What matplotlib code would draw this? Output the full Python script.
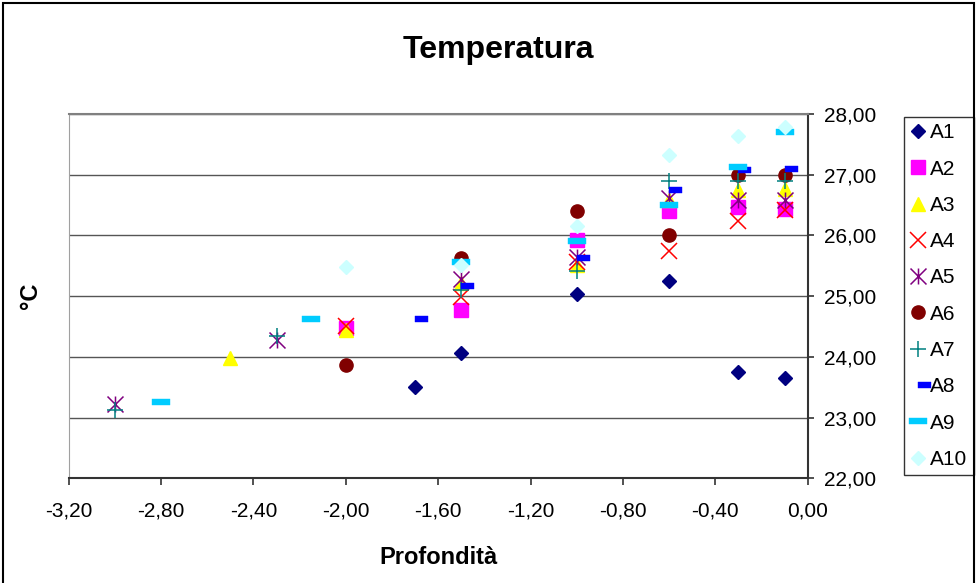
import numpy as np
import matplotlib
matplotlib.use('Agg')
import matplotlib.pyplot as plt
from matplotlib.path import Path
from matplotlib.patches import Rectangle
from matplotlib.ticker import FuncFormatter, MultipleLocator

plt.rcParams['font.family'] = 'Liberation Sans'

# depth (m) and temperature (degC) per station
x_a1 = [-1.7, -1.5, -1.0, -0.6, -0.3, -0.1]
y_a1 = [23.50, 24.07, 25.04, 25.25, 23.75, 23.65]
x_a2 = [-2.0, -1.5, -1.0, -0.6, -0.3, -0.1]
y_a2 = [24.48, 24.77, 25.93, 26.40, 26.46, 26.44]
x_a3 = [-2.5, -2.0, -1.5, -1.0, -0.6, -0.3, -0.1]
y_a3 = [23.98, 24.45, 25.22, 25.51, 26.58, 26.75, 26.76]
x_a4 = [-2.0, -1.5, -1.0, -0.6, -0.3, -0.1]
y_a4 = [24.50, 24.98, 25.57, 25.74, 26.23, 26.42]
x_a5 = [-3.0, -2.3, -1.5, -1.0, -0.6, -0.3, -0.1]
y_a5 = [23.22, 24.28, 25.28, 25.65, 26.61, 26.58, 26.58]
x_a6 = [-2.0, -1.5, -1.0, -0.6, -0.3, -0.1]
y_a6 = [23.86, 25.62, 26.40, 26.00, 26.99, 27.00]
x_a7 = [-3.0, -2.3, -1.5, -1.0, -0.6, -0.3, -0.1]
y_a7 = [23.13, 24.35, 25.10, 25.42, 26.89, 26.89, 26.89]
x_a8 = [-1.7, -1.5, -1.0, -0.6, -0.3, -0.1]
y_a8 = [24.63, 25.17, 25.62, 26.75, 27.07, 27.09]
x_a9 = [-2.8, -2.15, -1.5, -1.0, -0.6, -0.3, -0.1]
y_a9 = [23.25, 24.62, 25.56, 25.91, 26.50, 27.12, 27.71]
x_a10 = [-2.0, -1.5, -1.0, -0.6, -0.3, -0.1]
y_a10 = [25.48, 25.51, 26.15, 27.32, 27.64, 27.79]

names = ['A1', 'A2', 'A3', 'A4', 'A5', 'A6', 'A7', 'A8', 'A9', 'A10']

# excel-like markers
star = Path([(-1, -1), (1, 1), (-1, 1), (1, -1), (0, -1), (0, 1)],
            [Path.MOVETO, Path.LINETO, Path.MOVETO, Path.LINETO, Path.MOVETO, Path.LINETO])
short_dash = Path([(0, -0.2), (1, -0.2), (1, 0.2), (0, 0.2), (0, -0.2)], closed=True)
long_dash = Path([(-1, -0.28), (1, -0.28), (1, 0.28), (-1, 0.28), (-1, -0.28)], closed=True)

styles = [
    dict(marker='D', ms=7, color='#000080'),
    dict(marker='s', ms=9.5, color='#FF00FF'),
    dict(marker='^', ms=10, color='#FFFF00'),
    dict(marker='x', ms=11.5, color='#FF0000', mew=1.1),
    dict(marker=star, ms=11.5, color='#800080', mew=1.1, mfc='none'),
    dict(marker='o', ms=9.5, color='#800000'),
    dict(marker='+', ms=12, color='#008080', mew=1.1),
    dict(marker=short_dash, ms=18.7, color='#0000FF', mew=0.3),
    dict(marker=long_dash, ms=13, color='#00CCFF', mew=0.3),
    dict(marker='D', ms=7, color='#CCFFFF'),
]

xs = [x_a1, x_a2, x_a3, x_a4, x_a5, x_a6, x_a7, x_a8, x_a9, x_a10]
ys = [y_a1, y_a2, y_a3, y_a4, y_a5, y_a6, y_a7, y_a8, y_a9, y_a10]

fig = plt.figure(figsize=(9.77, 5.83), dpi=100)
ax = fig.add_axes([0.0703, 0.1796, 0.7564, 0.6249])

handles = []
for x, y, name, st in zip(xs, ys, names, styles):
    h, = ax.plot(x, y, linestyle='none', label=name, **st)
    handles.append(h)

ax.set_xlim(-3.2, 0)
ax.set_ylim(22, 28)
ax.xaxis.set_major_locator(MultipleLocator(0.4))
ax.yaxis.set_major_locator(MultipleLocator(1))
fmt = FuncFormatter(lambda v, p: '{:.2f}'.format(v).replace('.', ','))
ax.xaxis.set_major_formatter(fmt)
ax.yaxis.set_major_formatter(fmt)

ax.yaxis.tick_right()
ax.tick_params(axis='both', direction='out', labelsize=15, width=1.2, color='#333333')
ax.tick_params(axis='x', length=5, pad=12)
ax.tick_params(axis='y', length=4, pad=8)

ax.grid(axis='y', color='#555555', lw=1)
ax.set_axisbelow(True)

ax.spines['left'].set_color('#a0a0a0')
ax.spines['top'].set_color('#808080')
ax.spines['top'].set_linewidth(1.5)
ax.spines['bottom'].set_color('#333333')
ax.spines['right'].set_color('#333333')
ax.spines['bottom'].set_linewidth(1.5)
ax.spines['right'].set_linewidth(1.5)

ax.set_xlabel('Profondità', fontsize=17, fontweight='bold', labelpad=18)
fig.text(0.031, 1 - 296 / 583, '°C', rotation=90, fontsize=17, fontweight='bold',
         ha='center', va='center')
fig.text(0.510, 1 - 50 / 583, 'Temperatura', fontsize=23, fontweight='bold',
         ha='center', va='center')

leg = ax.legend(handles=handles, loc='upper left', bbox_to_anchor=(904 / 977, 1 - 117 / 583),
                bbox_transform=fig.transFigure, fontsize=15, frameon=True, fancybox=False,
                edgecolor='black', borderaxespad=0, borderpad=0.3, handlelength=0.7,
                handletextpad=0.25, labelspacing=0.83, numpoints=1)
leg.get_frame().set_linewidth(1.0)

fig.patches.append(Rectangle((0.003, -0.02), 0.994, 1.015, transform=fig.transFigure,
                             fill=False, edgecolor='black', lw=1.5))

plt.savefig('out.png', dpi=100)
